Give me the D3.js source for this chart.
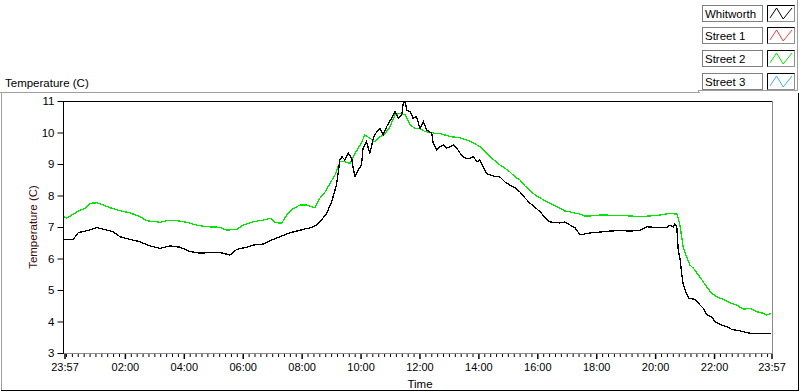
<!DOCTYPE html>
<html><head><meta charset="utf-8">
<script src="https://cdn.jsdelivr.net/npm/d3@7/dist/d3.min.js"></script>
<style>
html,body{margin:0;padding:0;background:#fff;}
svg{display:block;font-family:"Liberation Sans",Arial,sans-serif;}
</style></head>
<body><svg id="chart" width="800" height="392"></svg>
<script>
// ---- data (minutes after 23:57 start, temperature °C) ----
const whitworthTime = [0,19,29,46,67,87,100,114,134,155,175,196,216,236,257,277,297,318,338,352,372,386,406,420,440,460,477,491,501,511,521,535,545,555,562,566,572,579,586,589,593,599,606,609,616,623,630,637,644,650,657,667,674,681,688,691,695,698,705,711,718,725,732,739,749,752,759,766,773,779,786,793,800,807,813,820,827,834,841,847,854,861,868,878,888,898,908,919,929,939,949,959,970,980,990,1010,1020,1031,1041,1051,1071,1092,1112,1132,1153,1173,1187,1200,1228,1234,1241,1244,1248,1249,1251,1255,1258,1261,1266,1273,1285,1292,1302,1309,1319,1326,1336,1350,1360,1377,1397,1418,1440];
const whitworthTemp = [6.61,6.61,6.82,6.88,6.98,6.90,6.85,6.69,6.61,6.53,6.40,6.32,6.40,6.36,6.22,6.17,6.19,6.19,6.11,6.29,6.36,6.43,6.46,6.57,6.69,6.82,6.88,6.94,6.97,7.03,7.16,7.43,7.80,8.33,9.13,9.23,9.13,9.34,9.18,8.86,8.60,8.81,8.97,9.50,9.71,9.34,9.82,10.03,10.13,9.92,10.18,10.45,10.66,10.45,10.56,10.93,10.98,10.71,10.66,10.45,10.50,10.13,10.34,10.08,9.97,9.66,9.44,9.55,9.60,9.50,9.55,9.60,9.50,9.34,9.23,9.18,9.18,9.23,9.07,9.13,8.91,8.70,8.65,8.60,8.59,8.43,8.33,8.24,8.11,7.92,7.76,7.63,7.48,7.29,7.16,7.13,7.16,7.06,6.97,6.75,6.81,6.84,6.87,6.89,6.87,6.90,7.01,6.99,6.99,7.06,7.01,7.09,7.01,6.80,6.27,5.95,5.53,5.21,4.95,4.74,4.70,4.58,4.42,4.21,4.15,3.99,3.91,3.83,3.75,3.70,3.63,3.63,3.63];
const street1Time = [];
const street1Temp = [];
const street2Time = [0,5,19,33,43,53,67,80,94,114,134,155,168,196,209,230,250,270,291,318,331,352,365,386,406,420,430,443,454,467,481,494,511,521,532,542,552,562,572,583,593,603,613,623,633,644,654,664,674,684,695,705,715,725,735,745,756,766,776,786,807,827,847,868,888,898,908,919,929,939,949,959,970,980,990,1000,1010,1020,1031,1041,1051,1061,1071,1092,1132,1173,1194,1214,1234,1248,1251,1255,1258,1261,1268,1275,1282,1292,1302,1309,1319,1329,1343,1356,1370,1384,1397,1411,1424,1431,1440];
const street2Temp = [7.33,7.28,7.41,7.54,7.59,7.75,7.77,7.70,7.61,7.52,7.45,7.33,7.20,7.15,7.20,7.20,7.15,7.06,7.01,6.99,6.90,6.93,7.06,7.17,7.22,7.28,7.14,7.12,7.38,7.59,7.70,7.70,7.61,7.91,8.12,8.39,8.65,9.07,9.07,9.02,9.34,9.60,9.92,9.82,9.71,9.87,9.97,10.18,10.56,10.61,10.56,10.24,10.13,10.13,10.03,10.01,9.97,9.97,9.92,9.87,9.83,9.73,9.55,9.23,8.97,8.87,8.75,8.59,8.49,8.30,8.17,8.02,7.92,7.83,7.76,7.67,7.60,7.51,7.48,7.44,7.41,7.35,7.35,7.38,7.37,7.33,7.35,7.38,7.43,7.41,7.28,7.01,6.69,6.37,6.06,5.79,5.69,5.48,5.26,5.10,4.90,4.79,4.70,4.60,4.52,4.39,4.42,4.31,4.26,4.21,4.26];
const street3Time = [];
const street3Temp = [];

const seriesNames = ["Whitworth","Street 1","Street 2","Street 3"];
const seriesColors = ["#000000","#ff3c3c","#00e600","#3cb4f0"];
const xTickMinutes = [0,123,243,363,483,603,723,843,963,1083,1203,1323,1440];
const xTickLabels = ["23:57","02:00","04:00","06:00","08:00","10:00","12:00","14:00","16:00","18:00","20:00","22:00","23:57"];
const yTicks = [3,4,5,6,7,8,9,10,11];
const chartTitle = "Temperature (C)";
const yTitle = "Temperature (C)";
const xTitle = "Time";

// ---- layout ----
const svg = d3.select("#chart");
const L = 64, T = 101, R = 772, B = 353;
const x = d3.scaleLinear().domain([0,1440]).range([L, R-1]);
const y = d3.scaleLinear().domain([3,11]).range([B, T]);

// outer panel
svg.append("line").attr("x1",0).attr("x2",700).attr("y1",92.5).attr("y2",92.5).attr("stroke","#a0a0a0");
svg.append("line").attr("x1",1.5).attr("x2",1.5).attr("y1",92).attr("y2",390).attr("stroke","#a0a0a0");
svg.append("line").attr("x1",1).attr("x2",799).attr("y1",390.5).attr("y2",390.5).attr("stroke","#000");
svg.append("line").attr("x1",798.5).attr("x2",798.5).attr("y1",93).attr("y2",391).attr("stroke","#000");
// legend panel frame
svg.append("line").attr("x1",698).attr("x2",798).attr("y1",90.5).attr("y2",90.5).attr("stroke","#a0a0a0");
svg.append("line").attr("x1",797.5).attr("x2",797.5).attr("y1",0).attr("y2",91).attr("stroke","#a0a0a0");
svg.append("line").attr("x1",698.5).attr("x2",698.5).attr("y1",90).attr("y2",93).attr("stroke","#a0a0a0");

// title
svg.append("text").attr("x",5).attr("y",87).attr("font-size","11.5px").attr("fill","#000").text(chartTitle);

// plot background + frame
svg.append("rect").attr("x",L).attr("y",T).attr("width",R-L).attr("height",B-T).attr("fill","#fff");
svg.append("line").attr("x1",L-0.5).attr("x2",R).attr("y1",T+0.5).attr("y2",T+0.5).attr("stroke","#000");
svg.append("line").attr("x1",L-0.5).attr("x2",L-0.5).attr("y1",T).attr("y2",B+1).attr("stroke","#000");
svg.append("line").attr("x1",R+0.5).attr("x2",R+0.5).attr("y1",T).attr("y2",B+1).attr("stroke","#8c8c8c");
svg.append("line").attr("x1",L).attr("x2",R+1).attr("y1",B+0.5).attr("y2",B+0.5).attr("stroke","#8c8c8c");

// y axis
const yAxis = d3.axisLeft(y).tickValues(yTicks).tickSize(6).tickPadding(3).tickFormat(d3.format("d"));
const gy = svg.append("g").attr("transform",`translate(${L-0.5},0)`).call(yAxis);
gy.select(".domain").remove();
gy.selectAll(".tick line").attr("stroke","#000");
gy.selectAll("text").attr("font-size","11.5px").attr("fill","#000").attr("font-family","Liberation Sans, Arial, sans-serif");
svg.append("text").attr("transform",`translate(37,227) rotate(-90)`).attr("text-anchor","middle")
  .attr("font-size","11.5px").attr("fill","#3a0d0d").text(yTitle);

// x axis: minor ticks every 12 minutes from midnight
const minor = d3.range(3, 1440, 12).filter(m => !xTickMinutes.includes(m));
const xMinor = d3.axisBottom(x).tickValues(minor).tickSize(3).tickFormat("");
const gxm = svg.append("g").attr("transform",`translate(0.5,${B+1})`).call(xMinor);
gxm.select(".domain").remove();
gxm.selectAll(".tick line").attr("stroke","#000");
const xAxis = d3.axisBottom(x).tickValues(xTickMinutes).tickSize(5).tickPadding(4)
  .tickFormat((d,i) => xTickLabels[i]);
const gx = svg.append("g").attr("transform",`translate(0.5,${B+1})`).call(xAxis);
gx.select(".domain").remove();
gx.selectAll(".tick line").attr("stroke","#000").attr("stroke-width",1.5);
gx.selectAll("text").attr("font-size","11px").attr("fill","#000").attr("font-family","Liberation Sans, Arial, sans-serif");
svg.append("text").attr("x",(L+R)/2+2).attr("y",388).attr("text-anchor","middle")
  .attr("font-size","11.5px").attr("fill","#000").text(xTitle);

// series
const series = [
  {name:seriesNames[0], color:seriesColors[0], t:whitworthTime, v:whitworthTemp},
  {name:seriesNames[1], color:seriesColors[1], t:street1Time, v:street1Temp},
  {name:seriesNames[2], color:seriesColors[2], t:street2Time, v:street2Temp},
  {name:seriesNames[3], color:seriesColors[3], t:street3Time, v:street3Temp}
];
const line = d3.line().x(d => x(d[0])).y(d => y(d[1]));
const plotG = svg.append("g");
[series[3], series[1], series[2], series[0]].forEach(s => {
  if (!s.t.length) return;
  const pts = s.t.map((t,i) => [t, s.v[i]]);
  plotG.append("path").datum(pts).attr("d", line).attr("fill","none")
    .attr("stroke", s.color).attr("stroke-width",1.3).attr("shape-rendering","crispEdges");
});

// legend
const lg = svg.append("g");
series.forEach((s,i) => {
  const top = 4.5 + i*22.7;
  const row = lg.append("g").attr("transform",`translate(0,${Math.round(top)})`);
  row.append("rect").attr("x",702.5).attr("y",0.5).attr("width",60).attr("height",16)
    .attr("fill","#fff").attr("stroke","#808080");
  row.append("text").attr("x",705).attr("y",13).attr("font-size","11.5px").attr("fill","#000").text(s.name);
  row.append("rect").attr("x",767.5).attr("y",0.5).attr("width",27).attr("height",16)
    .attr("fill","#fff").attr("stroke","#909090");
  row.append("path").attr("d","M767.5,16.5V0.5H794.5").attr("fill","none").attr("stroke","#000");
  const sx = d3.scaleLinear().domain([0,1]).range([770,792]);
  const sy = d3.scaleLinear().domain([0,1]).range([14,3]);
  row.append("path").datum([[0,0.1],[0.3,1],[0.6,0],[1,1]])
    .attr("d", d3.line().x(d=>sx(d[0])).y(d=>sy(d[1])))
    .attr("fill","none").attr("stroke",s.color).attr("stroke-width",1);
});
</script>
</body></html>
